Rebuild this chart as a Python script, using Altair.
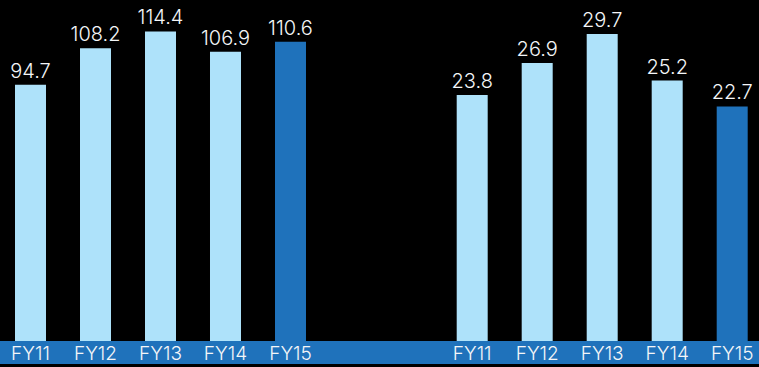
import altair as alt
import pandas as pd

years = ["FY11", "FY12", "FY13", "FY14", "FY15"]
left_values = [94.7, 108.2, 114.4, 106.9, 110.6]
right_values = [23.8, 26.9, 29.7, 25.2, 22.7]
highlight_year = "FY15"

LIGHT = "#AEE2FA"
DARK = "#1F72BB"
TEXT = "#F4F6F8"
FONT = "Inter"
PLOT_H = 341
BAND_BOTTOM = 364


def panel(values, width, pad_outer, align, ymax):
    df = pd.DataFrame({"year": years, "value": values})
    base = alt.Chart(df)
    xenc = alt.X(
        "year:N",
        sort=years,
        scale=alt.Scale(paddingInner=0.52308, paddingOuter=pad_outer, align=align),
        axis=alt.Axis(
            title=None, domain=False, ticks=False, tickSize=0, grid=False,
            labelAngle=0, labelPadding=18, labelBaseline="alphabetic",
            labelFontSize=19, labelFont=FONT, labelFontWeight=300,
            labelColor=TEXT, zindex=1,
        ),
    )
    yenc = alt.Y("value:Q", scale=alt.Scale(domain=[0, ymax], nice=False, zero=True), axis=None)
    band = base.mark_rect(color=DARK).encode(
        x=alt.value(0), x2=alt.value(width),
        y=alt.value(PLOT_H), y2=alt.value(BAND_BOTTOM),
    )
    bars = base.mark_bar().encode(
        x=xenc,
        y=yenc,
        color=alt.condition(alt.datum.year == highlight_year, alt.value(DARK), alt.value(LIGHT)),
    )
    labels = base.mark_text(
        dy=-7, baseline="alphabetic", fontSize=20, font=FONT, fontWeight=300, color=TEXT
    ).encode(x=xenc, y=yenc, text=alt.Text("value:Q", format=".1f"))
    return alt.layer(band, bars, labels).properties(width=width, height=PLOT_H)


left = panel(left_values, 380, 0.68462, 0.16854, 126.0)
right = panel(right_values, 379, 0.67692, 0.8716, 33.0)

chart = (
    alt.hconcat(left, right, spacing=0, bounds="flush")
    .properties(background="black", padding={"left": 0, "top": 0, "right": 0, "bottom": 3})
    .configure_view(strokeWidth=0)
)

chart.save("out.html", embed_options={"renderer": "svg", "actions": False})
